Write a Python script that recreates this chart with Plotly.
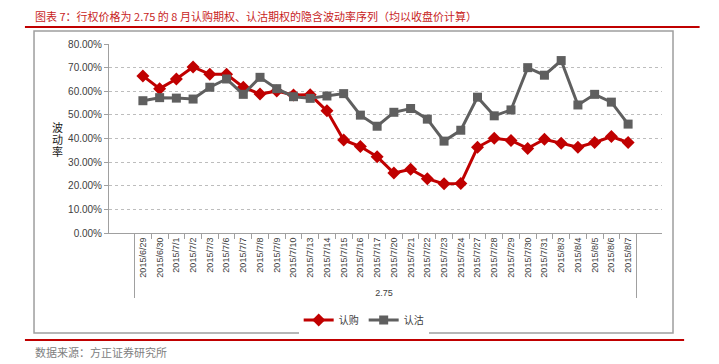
import plotly.graph_objects as go

dates = ["2015/6/29", "2015/6/30", "2015/7/1", "2015/7/2", "2015/7/3", "2015/7/6", "2015/7/7",
         "2015/7/8", "2015/7/9", "2015/7/10", "2015/7/13", "2015/7/14", "2015/7/15", "2015/7/16",
         "2015/7/17", "2015/7/20", "2015/7/21", "2015/7/22", "2015/7/23", "2015/7/24", "2015/7/27",
         "2015/7/28", "2015/7/29", "2015/7/30", "2015/7/31", "2015/8/3", "2015/8/4", "2015/8/5",
         "2015/8/6", "2015/8/7"]
strike = ["2.75"] * len(dates)

call_iv = [0.665, 0.611, 0.652, 0.703, 0.672, 0.672, 0.617, 0.588, 0.601, 0.584,
           0.585, 0.517, 0.394, 0.366, 0.323, 0.254, 0.270, 0.230, 0.208, 0.210,
           0.363, 0.401, 0.392, 0.358, 0.397, 0.380, 0.363, 0.383, 0.408, 0.383]
put_iv = [0.560, 0.573, 0.571, 0.567, 0.617, 0.652, 0.587, 0.659, 0.611, 0.577,
          0.570, 0.580, 0.590, 0.499, 0.452, 0.511, 0.527, 0.482, 0.389, 0.435,
          0.575, 0.496, 0.521, 0.700, 0.668, 0.730, 0.542, 0.587, 0.554, 0.461]

RED = "#C00000"
GRAY = "#5F5F5F"
FONT = "Noto Sans CJK SC"

fig = go.Figure()
fig.add_trace(go.Scatter(
    x=[strike, dates], y=call_iv, name="认购", mode="lines+markers",
    line=dict(color=RED, width=3),
    marker=dict(symbol="diamond", size=10, color=RED),
))
fig.add_trace(go.Scatter(
    x=[strike, dates], y=put_iv, name="认沽", mode="lines+markers",
    line=dict(color=GRAY, width=3),
    marker=dict(symbol="square", size=9, color=GRAY),
))

annots = [
    dict(text="图表 7：行权价格为 2.75 的 8 月认购期权、认沽期权的隐含波动率序列（均以收盘价计算）",
         xref="paper", yref="paper", x=-0.137, y=1.147, xanchor="left", yanchor="middle",
         showarrow=False, font=dict(family=FONT, size=11, color="#C81E1E")),
    dict(text="数据来源：方正证券研究所", xref="paper", yref="paper", x=-0.137, y=-0.630,
         xanchor="left", yanchor="middle", showarrow=False,
         font=dict(family=FONT, size=11, color="#808080")),
]
for ch, yy in zip(["波", "动", "率"], [0.561, 0.497, 0.434]):
    annots.append(dict(text=ch, xref="paper", yref="paper", x=-0.094, y=yy,
                       xanchor="center", yanchor="middle", showarrow=False,
                       font=dict(family=FONT, size=11, color="#1A1A1A")))

fig.update_layout(
    width=711, height=356,
    margin=dict(l=101, r=57, t=36, b=131),
    paper_bgcolor="white", plot_bgcolor="white",
    font=dict(family=FONT, size=10, color="#404040"),
    showlegend=True,
    legend=dict(orientation="h", x=0.343, xanchor="left", y=-0.46, yanchor="middle",
                font=dict(family=FONT, size=10, color="#404040"), itemwidth=30, tracegroupgap=0),
    xaxis=dict(
        type="multicategory", tickangle=-90, showline=True, linecolor="#A0A0A0",
        showdividers=True, dividercolor="#A0A0A0", dividerwidth=1,
        tickfont=dict(family="Liberation Sans", size=9, color="#404040"),
        showgrid=False, ticks="outside", tickcolor="#A0A0A0", automargin=False,
    ),
    yaxis=dict(
        range=[0, 0.8001], dtick=0.1, tickformat=".2%",
        showline=True, linecolor="#A0A0A0",
        gridcolor="#BDBDBD", griddash="dot", gridwidth=1,
        ticks="outside", ticklen=4, tickcolor="#A0A0A0",
        tickfont=dict(family="Liberation Sans", size=10, color="#404040"),
        zeroline=False, automargin=False,
    ),
    shapes=[
        dict(type="rect", xref="paper", yref="paper", x0=-0.1356, x1=1.0199, y0=-0.529, y1=1.069,
             line=dict(color="#9E9E9E", width=1.5)),
        dict(type="line", xref="paper", yref="paper", x0=-0.152, x1=1.068, y0=1.090, y1=1.090,
             line=dict(color="#C00000", width=2)),
        dict(type="line", xref="paper", yref="paper", x0=-0.152, x1=1.040, y0=-0.566, y1=-0.566,
             line=dict(color="#C00000", width=2)),
    ],
    annotations=annots,
)

fig.write_html("out.html")
